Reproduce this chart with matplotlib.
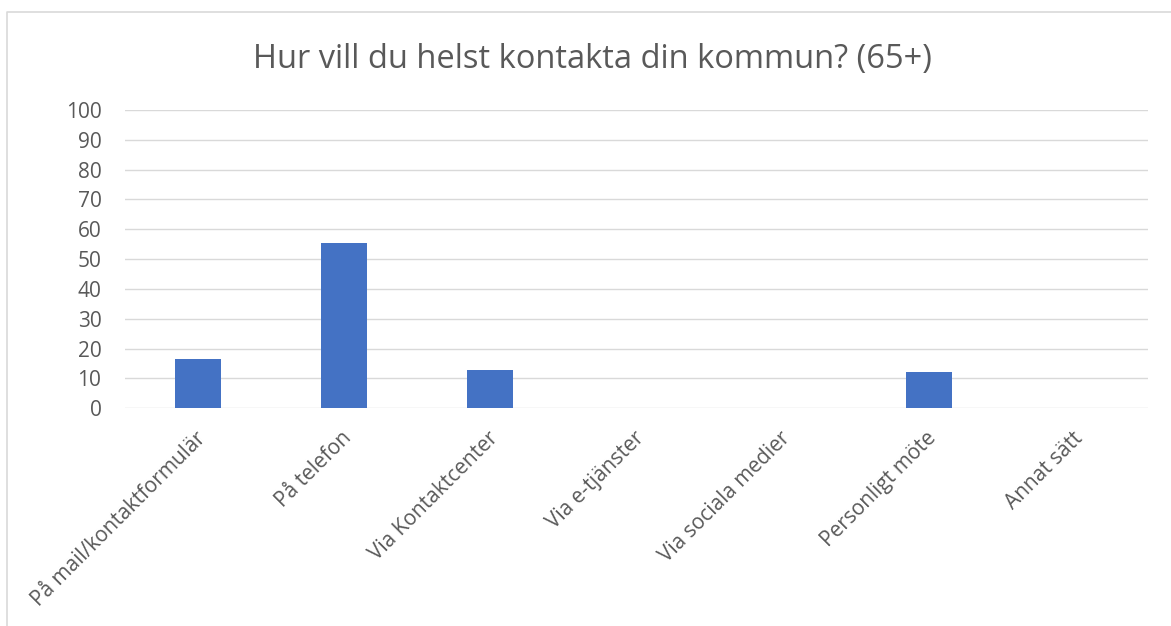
import numpy as np
import matplotlib.pyplot as plt
from matplotlib.lines import Line2D
from matplotlib.transforms import ScaledTranslation

plt.rcParams['font.family'] = ['Open Sans', 'DejaVu Sans']

# Svar per kontaktväg (procent)
kategorier = ['På mail/kontaktformulär', 'På telefon', 'Via Kontaktcenter',
              'Via e-tjänster', 'Via sociala medier', 'Personligt möte', 'Annat sätt']
andel = [16.5, 55.3, 12.8, 0, 0, 12.2, 0]
y_ticks = list(range(0, 101, 10))

text_grey = '#595959'
grid_grey = '#d9d9d9'
bar_blue = '#4472C4'

fig = plt.figure(figsize=(11.71, 6.26), dpi=100)
ax = fig.add_axes([125 / 1171, 217.7 / 626, 1023 / 1171, 298.3 / 626])

x = np.arange(len(kategorier))
ax.bar(x, andel, width=0.315, color=bar_blue, zorder=3)

ax.set_xlim(-0.5, len(kategorier) - 0.5)
ax.set_ylim(0, 100)
ax.set_yticks(y_ticks)
ax.set_yticklabels([str(v) for v in y_ticks])
ax.yaxis.grid(True, color=grid_grey, linewidth=1.0, zorder=0)
ax.set_axisbelow(True)
for s in ax.spines.values():
    s.set_visible(False)
ax.tick_params(axis='y', length=0, pad=17, labelsize=15, labelcolor=text_grey)
ax.tick_params(axis='x', length=0, pad=14, labelsize=15, labelcolor=text_grey)

ax.set_xticks(x)
ax.set_xticklabels(kategorier, rotation=45, ha='right', va='top',
                   rotation_mode='anchor')
shift = ScaledTranslation(-3 / 100, 0, fig.dpi_scale_trans)
for lbl in ax.get_xticklabels():
    lbl.set_transform(lbl.get_transform() + shift)

fig.text(592 / 1171, 1 - 68 / 626, 'Hur vill du helst kontakta din kommun? (65+)',
         ha='center', va='baseline', fontsize=23.5, color=text_grey)

# ram runt diagrammet
fig.add_artist(Line2D([7 / 1171, 7 / 1171, 1.0], [0.0, 1 - 12 / 626, 1 - 12 / 626],
                      transform=fig.transFigure, color=grid_grey, linewidth=1.2))

fig.savefig('out.png', dpi=100)
